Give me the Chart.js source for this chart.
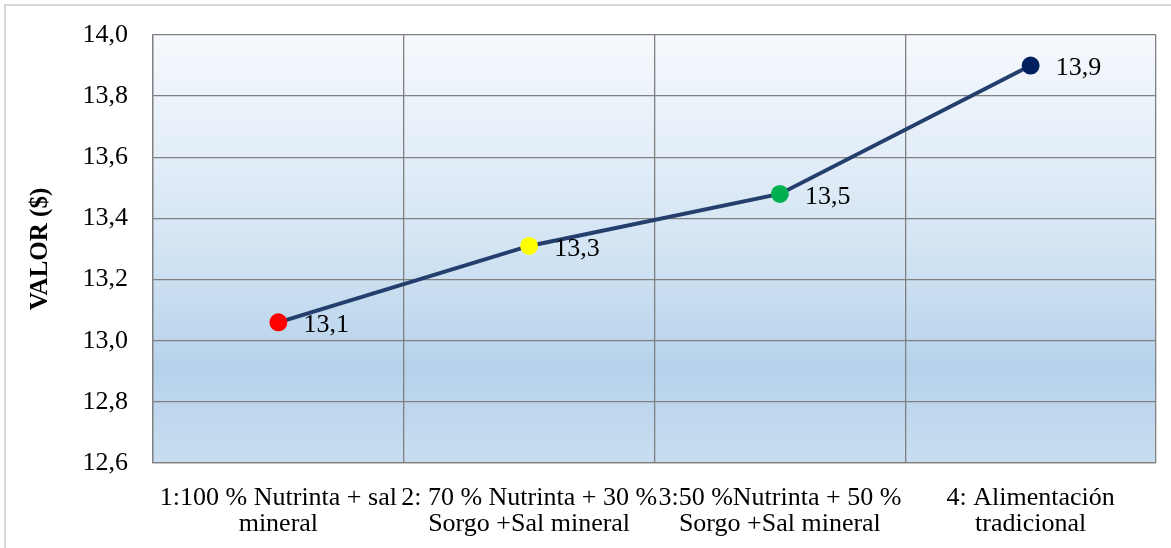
<!DOCTYPE html>
<html>
<head>
<meta charset="utf-8">
<script src="https://cdn.jsdelivr.net/npm/chart.js@4"></script>
<style>
  html, body { margin: 0; padding: 0; background: #fff; }
  #wrap { width: 1171px; height: 548px; position: relative; }
</style>
</head>
<body>
<div id="wrap"><canvas id="mycanvas"></canvas></div>
<script>
var categorias = [
    ["1:100 % Nutrinta + sal", "mineral"],
    ["2: 70 % Nutrinta + 30 %", "Sorgo +Sal mineral"],
    ["3:50 %Nutrinta + 50 %", "Sorgo +Sal mineral"],
    ["4: Alimentación", "tradicional"]
];
var valores = [13.06, 13.31, 13.48, 13.90];
var etiquetas = ["13,1", "13,3", "13,5", "13,9"];
var coloresPuntos = ["#ff0000", "#ffff00", "#00b050", "#002060"];

var fuente = "'Liberation Serif', 'Times New Roman', serif";

// fondo degradado del area de trazado + borde exterior
var fondoPlugin = {
    id: 'fondo',
    beforeDraw: function(chart) {
        var c = chart.ctx, a = chart.chartArea;
        c.save();
        c.strokeStyle = '#d9d9d9';
        c.lineWidth = 2;
        c.strokeRect(5, 5, 1300, 700);
        var g = c.createLinearGradient(0, a.top, 0, a.bottom);
        g.addColorStop(0, '#f6f9fd');
        g.addColorStop(0.5, '#d3e4f3');
        g.addColorStop(0.78, '#b6d2eb');
        g.addColorStop(1, '#c8ddf0');
        c.fillStyle = g;
        c.fillRect(a.left, a.top, a.right - a.left, a.bottom - a.top);
        c.restore();
    }
};

// etiquetas de datos a la derecha de cada punto
var etiquetasPlugin = {
    id: 'etiquetas',
    afterDatasetsDraw: function(chart) {
        var c = chart.ctx;
        var meta = chart.getDatasetMeta(0);
        c.save();
        c.font = '26px ' + fuente;
        c.fillStyle = '#000';
        c.textAlign = 'left';
        c.textBaseline = 'middle';
        meta.data.forEach(function(p, i) {
            c.fillText(etiquetas[i], p.x + 25, p.y + 3);
        });
        c.restore();
    }
};

var ctx = document.getElementById('mycanvas');
var grafico = new Chart(ctx, {
    type: 'line',
    data: {
        labels: categorias,
        datasets: [{
            data: valores,
            borderColor: '#243f6e',
            borderWidth: 4,
            pointBackgroundColor: coloresPuntos,
            pointBorderColor: coloresPuntos,
            pointRadius: 7,
            pointHoverRadius: 7,
            tension: 0,
            clip: false
        }]
    },
    options: {
        responsive: true,
        maintainAspectRatio: false,
        animation: false,
        events: [],
        layout: { autoPadding: false, padding: { top: 35, right: 15, left: 0, bottom: 0 } },
        plugins: {
            legend: { display: false },
            tooltip: { enabled: false }
        },
        scales: {
            x: {
                offset: true,
                grid: { color: '#808080', lineWidth: 1.3, drawTicks: false, offset: true },
                border: { color: '#808080', width: 1.3 },
                ticks: {
                    color: '#000',
                    font: { family: fuente, size: 26, lineHeight: 1.0 },
                    padding: 22,
                    maxRotation: 0,
                    autoSkip: false
                },
                afterFit: function(s) { s.height = 85; s.paddingLeft = 0; s.paddingRight = 0; }
            },
            y: {
                min: 12.6,
                max: 14.0,
                grid: { color: '#808080', lineWidth: 1.3, drawTicks: false },
                border: { color: '#808080', width: 1.3 },
                ticks: {
                    stepSize: 0.2,
                    color: '#000',
                    font: { family: fuente, size: 26 },
                    padding: 25,
                    callback: function(v) { return v.toFixed(1).replace('.', ','); }
                },
                title: {
                    display: true,
                    text: 'VALOR ($)',
                    color: '#000',
                    font: { family: fuente, size: 25, weight: 'bold' },
                    padding: { top: 26, bottom: 0 }
                },
                afterFit: function(s) { s.width = 153; s.paddingTop = 0; s.paddingBottom = 0; }
            }
        }
    },
    plugins: [fondoPlugin, etiquetasPlugin]
});
</script>
</body>
</html>
